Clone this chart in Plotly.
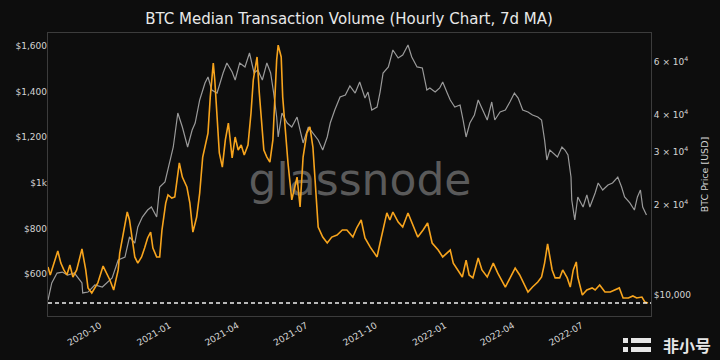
import plotly.graph_objects as go

# ---------------- data ----------------
vol_dates = [
    "2020-07-20", "2020-07-23", "2020-08-02", "2020-08-06", "2020-08-10", "2020-08-14", "2020-08-18",
    "2020-08-22", "2020-08-27", "2020-09-03", "2020-09-08", "2020-09-11", "2020-09-16", "2020-09-20",
    "2020-09-24", "2020-10-01", "2020-10-06", "2020-10-10", "2020-10-15", "2020-10-21", "2020-10-23",
    "2020-10-27", "2020-11-02", "2020-11-05", "2020-11-08", "2020-11-12", "2020-11-16", "2020-11-21",
    "2020-11-25", "2020-11-29", "2020-12-03", "2020-12-06", "2020-12-11", "2020-12-15", "2020-12-18",
    "2020-12-23", "2020-12-26", "2020-12-31", "2021-01-04", "2021-01-08", "2021-01-10", "2021-01-14",
    "2021-01-20", "2021-01-24", "2021-01-28", "2021-02-02", "2021-02-06", "2021-02-10", "2021-02-17",
    "2021-02-20", "2021-02-24", "2021-02-26", "2021-03-01", "2021-03-04", "2021-03-08", "2021-03-12",
    "2021-03-16", "2021-03-18", "2021-03-21", "2021-03-25", "2021-03-29", "2021-04-02", "2021-04-06",
    "2021-04-11", "2021-04-15", "2021-04-18", "2021-04-23", "2021-04-26", "2021-04-30", "2021-05-02",
    "2021-05-06", "2021-05-10", "2021-05-14", "2021-05-19", "2021-05-21", "2021-05-25", "2021-05-27",
    "2021-05-31", "2021-06-03", "2021-06-08", "2021-06-12", "2021-06-15", "2021-06-19", "2021-06-23",
    "2021-06-28", "2021-07-02", "2021-07-06", "2021-07-10", "2021-07-13", "2021-07-19", "2021-07-25",
    "2021-07-31", "2021-08-07", "2021-08-14", "2021-08-20", "2021-08-28", "2021-09-02", "2021-09-08",
    "2021-09-13", "2021-09-20", "2021-09-29", "2021-10-03", "2021-10-07", "2021-10-12", "2021-10-16",
    "2021-10-20", "2021-10-27", "2021-11-02", "2021-11-09", "2021-11-16", "2021-11-22", "2021-11-29",
    "2021-12-05", "2021-12-11", "2021-12-19", "2021-12-25", "2022-01-04", "2022-01-08", "2022-01-14",
    "2022-01-20", "2022-01-25", "2022-01-29", "2022-02-03", "2022-02-10", "2022-02-15", "2022-02-22",
    "2022-03-02", "2022-03-08", "2022-03-18", "2022-03-24", "2022-03-31", "2022-04-06", "2022-04-13",
    "2022-04-17", "2022-04-23", "2022-04-30", "2022-05-05", "2022-05-09", "2022-05-13", "2022-05-19",
    "2022-05-23", "2022-05-29", "2022-06-02", "2022-06-08", "2022-06-12", "2022-06-16", "2022-06-20",
    "2022-06-22", "2022-06-28", "2022-07-04", "2022-07-11", "2022-07-15", "2022-07-21", "2022-07-28",
    "2022-08-04", "2022-08-10", "2022-08-16", "2022-08-21", "2022-08-28", "2022-09-03", "2022-09-08",
    "2022-09-15", "2022-09-19", "2022-09-23",
]
vol_values = [
    631, 596, 701, 648, 618, 596, 640,
    587, 618, 710, 618, 539, 517, 539,
    561, 635, 604, 574, 530, 618, 692,
    762, 872, 837, 762, 675, 648, 675,
    714, 758, 784, 714, 675, 675, 793,
    911, 947, 933, 938, 1056, 1087, 1025,
    982, 911, 784, 850, 955, 1113, 1218,
    1376, 1525, 1451, 1306, 1131, 1069, 1188,
    1262, 1188, 1109, 1201, 1144, 1166, 1122,
    1166, 1306, 1451, 1552, 1394, 1232, 1144,
    1113, 1091, 1188, 1539, 1604, 1552, 1376,
    1201, 1087, 925, 982, 1025, 894, 1113,
    1218, 1245, 1157, 968, 806, 762, 736,
    762, 771, 793, 793, 762, 802, 837,
    758, 718, 675, 736, 793, 868, 837,
    872, 828, 806, 868, 815, 762, 793,
    824, 736, 705, 675, 705, 648, 618,
    587, 661, 596, 583, 670, 618, 587,
    648, 604, 543, 583, 626, 596, 552,
    521, 543, 565, 587, 648, 732, 618,
    583, 583, 618, 583, 543, 618, 653,
    587, 508, 530, 539, 530, 552, 521,
    521, 530, 539, 495, 495, 504, 495,
    499, 477, 473,
]

price_dates = [
    "2020-07-20", "2020-07-25", "2020-08-01", "2020-08-08", "2020-08-15", "2020-08-24", "2020-09-03",
    "2020-09-04", "2020-09-11", "2020-09-20", "2020-09-30", "2020-10-06", "2020-10-13", "2020-10-21",
    "2020-10-30", "2020-11-05", "2020-11-12", "2020-11-16", "2020-11-22", "2020-11-29", "2020-12-04",
    "2020-12-11", "2020-12-15", "2020-12-22", "2020-12-29", "2021-01-02", "2021-01-08", "2021-01-14",
    "2021-01-21", "2021-01-27", "2021-01-31", "2021-02-06", "2021-02-13", "2021-02-17", "2021-02-22",
    "2021-03-01", "2021-03-09", "2021-03-14", "2021-03-21", "2021-03-25", "2021-03-31", "2021-04-07",
    "2021-04-13", "2021-04-19", "2021-04-24", "2021-04-30", "2021-05-06", "2021-05-11", "2021-05-15",
    "2021-05-19", "2021-05-21", "2021-05-26", "2021-06-02", "2021-06-08", "2021-06-15", "2021-06-19",
    "2021-06-23", "2021-06-30", "2021-07-06", "2021-07-13", "2021-07-19", "2021-07-25", "2021-07-29",
    "2021-08-04", "2021-08-11", "2021-08-18", "2021-08-24", "2021-08-31", "2021-09-06", "2021-09-13",
    "2021-09-17", "2021-09-22", "2021-09-29", "2021-10-03", "2021-10-07", "2021-10-14", "2021-10-20",
    "2021-10-27", "2021-11-02", "2021-11-09", "2021-11-14", "2021-11-21", "2021-11-28", "2021-12-04",
    "2021-12-08", "2021-12-15", "2021-12-21", "2021-12-25", "2021-12-31", "2022-01-04", "2022-01-10",
    "2022-01-17", "2022-01-21", "2022-01-25", "2022-01-30", "2022-02-05", "2022-02-10", "2022-02-16",
    "2022-02-22", "2022-02-28", "2022-03-04", "2022-03-11", "2022-03-18", "2022-03-24", "2022-03-30",
    "2022-04-04", "2022-04-10", "2022-04-17", "2022-04-23", "2022-04-30", "2022-05-05", "2022-05-09",
    "2022-05-12", "2022-05-16", "2022-05-20", "2022-05-26", "2022-06-01", "2022-06-05", "2022-06-09",
    "2022-06-13", "2022-06-14", "2022-06-18", "2022-06-22", "2022-06-29", "2022-07-04", "2022-07-08",
    "2022-07-15", "2022-07-19", "2022-07-25", "2022-08-01", "2022-08-07", "2022-08-14", "2022-08-19",
    "2022-08-23", "2022-08-30", "2022-09-05", "2022-09-09", "2022-09-13", "2022-09-16", "2022-09-21",
]
price_values = [
    9620, 10970, 11840, 11930, 11660, 11840, 10970,
    10160, 10230, 10800, 10630, 10970, 11400, 13090,
    13390, 15620, 14910, 16870, 18210, 19220, 19670,
    18210, 22940, 23840, 28230, 31200, 40520, 36380,
    31200, 35550, 37520, 44780, 51040, 53450, 48350,
    47250, 55120, 59530, 55540, 52230, 59530, 57730,
    64270, 55120, 56410, 52230, 59530, 55120, 47250,
    39290, 33700, 40520, 37520, 36380, 39290, 35550,
    32180, 36380, 34740, 32930, 30490, 33700, 37520,
    41470, 45810, 46530, 49870, 47250, 51430, 45460,
    47610, 41470, 42430, 47610, 55120, 57730, 65770,
    61840, 63280, 68350, 62320, 57730, 57290, 48350,
    49110, 47610, 49110, 51430, 47250, 44780, 42430,
    43090, 38400, 33700, 37520, 39900, 44780, 41470,
    38400, 44100, 38400, 40830, 41470, 44100, 47250,
    45460, 41470, 40830, 39900, 39290, 38400, 32930,
    28230, 30490, 29800, 28900, 31200, 30490, 29350,
    24770, 20760, 17800, 21250, 19670, 21580, 19670,
    21910, 23660, 22420, 23300, 23660, 24770, 22940,
    21250, 20290, 19220, 21250, 22420, 19670, 18500,
]

vol_ticks = [600, 800, 1000, 1200, 1400, 1600]
vol_tick_labels = ["$600", "$800", "$1k", "$1,200", "$1,400", "$1,600"]
price_ticks = [10000, 20000, 30000, 40000, 60000]
price_tick_labels = ["$10,000", "2 × 10<sup>4</sup>", "3 × 10<sup>4</sup>",
                     "4 × 10<sup>4</sup>", "6 × 10<sup>4</sup>"]

# ---------------- styling ----------------
BG = "#0d0d0d"
TXT = "#d4d4d4"
SPINE = "#3c3c3c"
FONT = "DejaVu Sans"
ORANGE = "#f7a41d"
GREY = "#9a9a9a"

L, R, T, B = 48, 651, 33, 316     # plot area in pixels
PW, PH = R - L, B - T

fig = go.Figure()

fig.add_trace(go.Scatter(
    x=price_dates, y=price_values, mode="lines", yaxis="y",
    line=dict(color=GREY, width=1.2), name="BTC Price",
))
fig.add_trace(go.Scatter(
    x=vol_dates, y=vol_values, mode="lines", yaxis="y2",
    line=dict(color=ORANGE, width=1.6), name="Median Transaction Volume",
))

fig.update_layout(
    width=720, height=360,
    margin=dict(l=L, r=720 - R, t=T, b=360 - B, autoexpand=False),
    paper_bgcolor=BG, plot_bgcolor=BG,
    showlegend=False,
    font=dict(family=FONT, size=9, color=TXT),
    title=dict(
        text="BTC Median Transaction Volume (Hourly Chart, 7d MA)",
        x=349 / 720, xanchor="center", y=1 - 19 / 360, yanchor="middle",
        font=dict(family=FONT, size=15, color="#e8e8e8"),
    ),
    xaxis=dict(
        range=["2020-07-20", "2022-09-27"],
        tickformat="%Y-%m", dtick="M3", tick0="2020-10-01",
        tickangle=-30, tickfont=dict(size=9, color=TXT),
        ticklabelshift=-3,
        showgrid=False, zeroline=False, automargin=False,
        showline=True, linecolor=SPINE, linewidth=1, mirror=True,
        ticks="",
    ),
    yaxis=dict(
        type="log", side="right",
        range=[3.9299, 4.8748],
        tickvals=price_ticks, ticktext=price_tick_labels,
        tickfont=dict(size=9, color=TXT),
        showgrid=False, zeroline=False, automargin=False,
        showline=True, linecolor=SPINE, linewidth=1, mirror=True,
        title=dict(text="BTC Price [USD]", font=dict(size=9.5, color=TXT), standoff=11),
        ticks="",
    ),
    yaxis2=dict(
        overlaying="y", side="left",
        range=[416, 1657],
        tickvals=vol_ticks, ticktext=vol_tick_labels,
        tickfont=dict(size=9, color=TXT),
        showgrid=False, zeroline=False, showline=False, automargin=False,
        ticks="",
    ),
)

# dashed reference line at the latest value
fig.add_shape(
    type="line", xref="paper", x0=0, x1=1, yref="y2",
    y0=vol_values[-1], y1=vol_values[-1],
    line=dict(color="#f0f0f0", width=1.3, dash="4px,3px"),
    layer="above",
)

# watermark beneath the lines
fig.add_shape(
    type="rect", xref="paper", yref="paper",
    x0=(250 - L) / PW, x1=(470 - L) / PW, y0=(B - 201) / PH, y1=(B - 151) / PH,
    line=dict(width=0), fillcolor="rgba(0,0,0,0)", layer="below",
    label=dict(text="glassnode", textposition="middle center",
               font=dict(family="DejaVu Sans", size=44, color="#5a5a5a")),
)

# site badge at bottom right
fig.add_annotation(
    text="<b>非小号</b>", xref="paper", yref="paper",
    x=(713 - L) / PW, y=-(345 - B) / PH, xanchor="right", yanchor="middle",
    showarrow=False,
    font=dict(family="Noto Sans CJK SC", size=16, color="#e6e6e6"),
)
for (x0, x1, y0, y1) in [(623, 628, 338, 343), (631, 651, 338, 343),
                          (623, 628, 347, 352), (631, 651, 347, 352)]:
    fig.add_shape(
        type="rect", xref="paper", yref="paper",
        x0=(x0 - L) / PW, x1=(x1 - L) / PW,
        y0=(B - y1) / PH, y1=(B - y0) / PH,
        line=dict(width=0), fillcolor="#e6e6e6",
    )

fig.write_html(
    "out.html",
    config={"displayModeBar": False},
    post_script="document.body.style.margin='0px';",
)
